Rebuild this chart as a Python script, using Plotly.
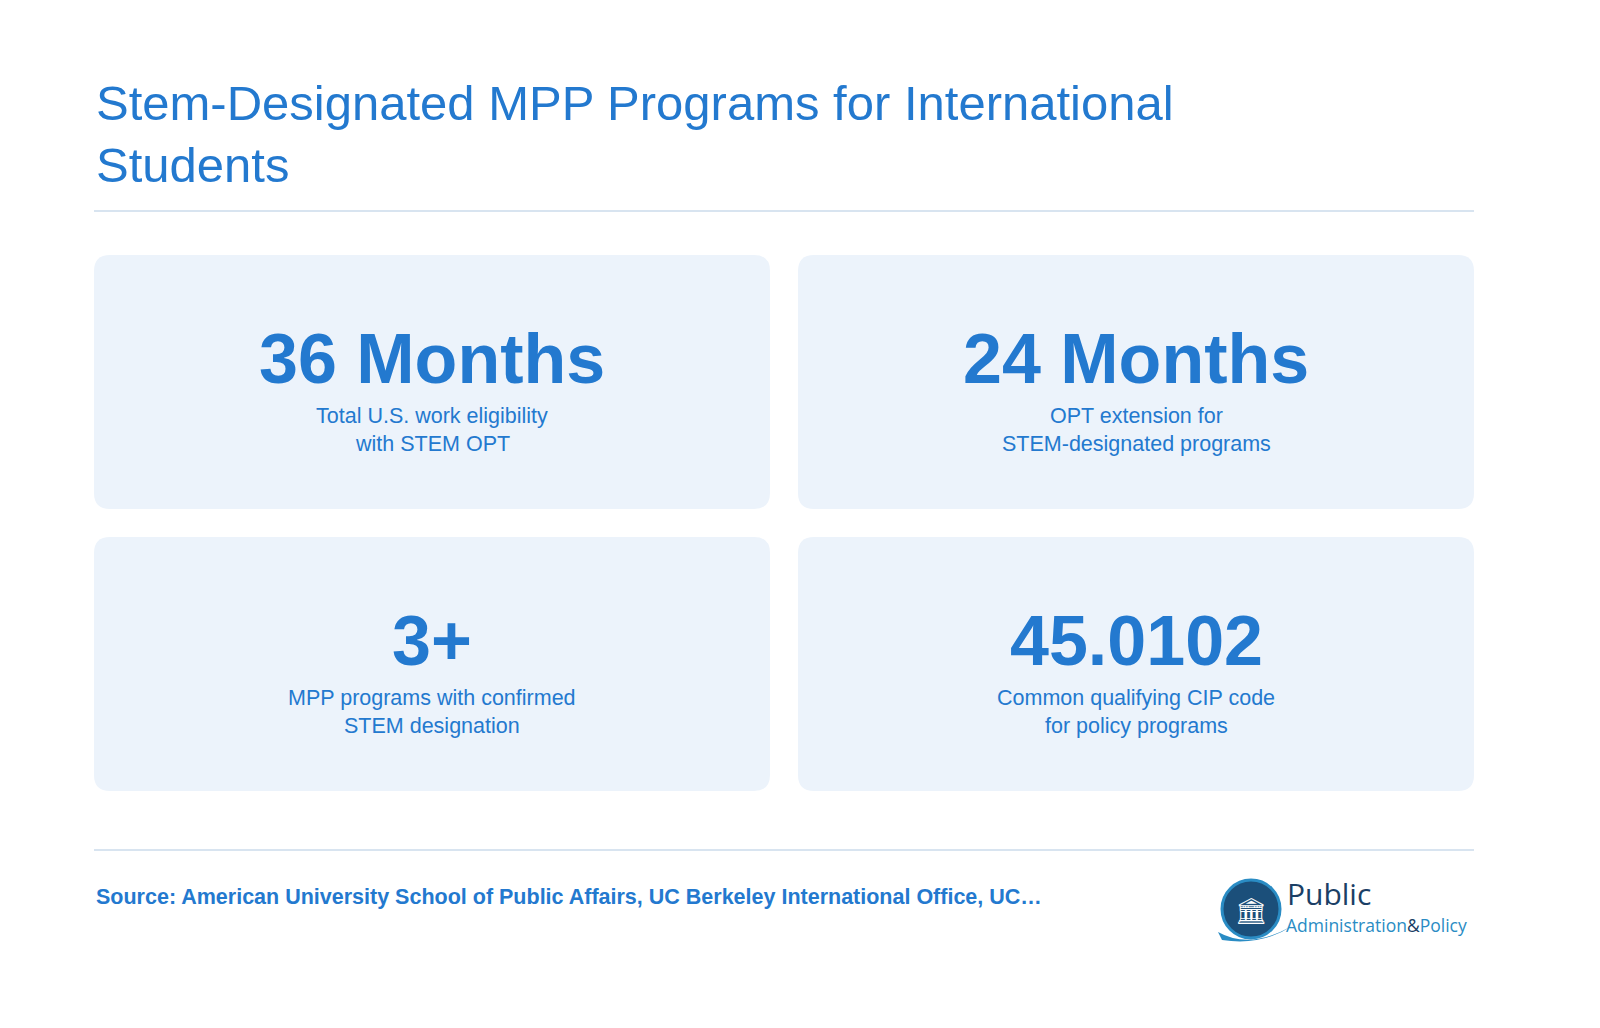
import plotly.graph_objects as go

title_lines = ["Stem-Designated MPP Programs for International", "Students"]
stat_values = ["36 Months", "24 Months", "3+", "45.0102"]
stat_labels = [["Total U.S. work eligibility", "with STEM OPT"],
               ["OPT extension for", "STEM-designated programs"],
               ["MPP programs with confirmed", "STEM designation"],
               ["Common qualifying CIP code", "for policy programs"]]
source_text = "Source: American University School of Public Affairs, UC Berkeley International Office, UC…"

W, H = 1600, 1028
OFF = 8
BLUE = "#2379cf"
CARD = "#ecf3fb"
FONT = "Liberation Sans, Arial, Helvetica, sans-serif"

fig = go.Figure()
shapes, ann = [], []

def rrect(x0, y0, x1, y1, r):
    return (f"M{x0+r},{y0} L{x1-r},{y0} Q{x1},{y0} {x1},{y0+r} L{x1},{y1-r} Q{x1},{y1} {x1-r},{y1} "
            f"L{x0+r},{y1} Q{x0},{y1} {x0},{y1-r} L{x0},{y0+r} Q{x0},{y0} {x0+r},{y0} Z")

for i, line in enumerate(title_lines):
    ann.append(dict(x=94, y=103 + 62 * i, text=line, xanchor="left", yanchor="middle", showarrow=False,
                    font=dict(family=FONT, size=49, color=BLUE)))
shapes.append(dict(type="line", x0=94, x1=1474, y0=211, y1=211, line=dict(color="#d8e4f0", width=2)))
shapes.append(dict(type="line", x0=94, x1=1474, y0=850, y1=850, line=dict(color="#d8e4f0", width=2)))

cols = [(94, 770), (798, 1474)]
rows = [(255, 509), (537, 791)]
for k, (val, lab) in enumerate(zip(stat_values, stat_labels)):
    x0, x1 = cols[k % 2]
    y0, y1 = rows[k // 2]
    cx = (x0 + x1) / 2
    shapes.append(dict(type="path", path=rrect(x0, y0, x1, y1, 16), fillcolor=CARD, line=dict(width=0), layer="below"))
    ann.append(dict(x=cx, y=y0 + 104, text=f"<b>{val}</b>", showarrow=False, xanchor="center", yanchor="middle",
                    font=dict(family=FONT, size=70, color=BLUE)))
    for j, l in enumerate(lab):
        ann.append(dict(x=cx, y=y0 + 161 + 28 * j, text=l, showarrow=False, xanchor="center", yanchor="middle",
                        font=dict(family=FONT, size=21.5, color=BLUE)))

ann.append(dict(x=94, y=897, text=f"<b>{source_text}</b>", showarrow=False, xanchor="left", yanchor="middle",
                font=dict(family=FONT, size=21.5, color=BLUE)))

# logo
shapes.append(dict(type="circle", x0=1222, x1=1280, y0=880, y1=938, fillcolor="#1b4f7a", line=dict(color="#2a8cc4", width=3)))
shapes.append(dict(type="path", path="M1218,932 Q1250,950 1292,926 Q1262,946 1222,940 Z", fillcolor="#2a8cc4", line=dict(width=0)))
ann.append(dict(x=1251, y=910, text="🏛", showarrow=False, font=dict(size=26, color="white")))
ann.append(dict(x=1285, y=893, text="Public", showarrow=False, xanchor="left", yanchor="middle",
                font=dict(family="Open Sans, sans-serif", size=30, color="#1b3f66")))
ann.append(dict(x=1284, y=925, text="<span style='color:#2a8cc4'>Administration</span><span style='color:#1b3f66'>&</span><span style='color:#2a8cc4'>Policy</span>",
                showarrow=False, xanchor="left", yanchor="middle", font=dict(family="Open Sans, sans-serif", size=17.5)))

fig.update_layout(width=W, height=H, margin=dict(l=0, r=0, t=0, b=0), paper_bgcolor="white", plot_bgcolor="white",
                  xaxis=dict(range=[OFF, W + OFF], visible=False, fixedrange=True),
                  yaxis=dict(range=[H + OFF, OFF], visible=False, fixedrange=True),
                  shapes=shapes, annotations=ann, showlegend=False)
fig.write_html("out.html", config={"displayModeBar": False})
